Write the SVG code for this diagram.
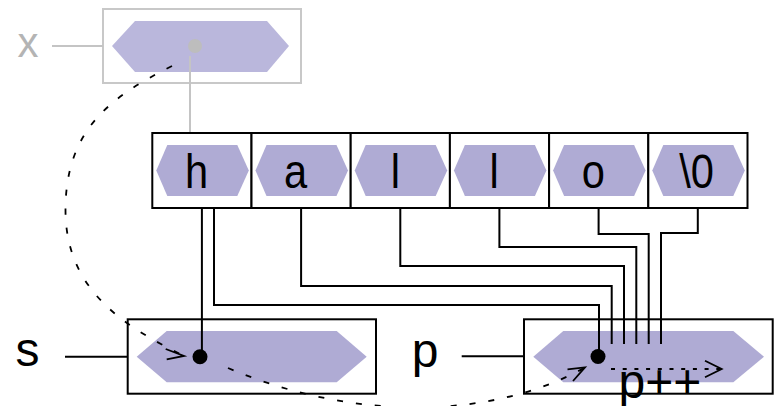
<svg xmlns="http://www.w3.org/2000/svg" width="776" height="406" viewBox="0 0 776 406">
<style>
.box{fill:#fff;stroke:#000;stroke-width:2}
.gbox{fill:#fff;stroke:#c8c8c8;stroke-width:2}
.hex{fill:#afabd4}
.ghex{fill:#bab7dc}
.wire{fill:none;stroke:#000;stroke-width:2}
.gwire{fill:none;stroke:#c4c4c4;stroke-width:2}
.dash{fill:none;stroke:#000;stroke-width:1.8;stroke-dasharray:6 13}
.dash2{fill:none;stroke:#000;stroke-width:1.8;stroke-dasharray:4 7.7}
.head{fill:none;stroke:#000;stroke-width:1.8}
.lbl{font-family:"Liberation Sans",Arial,sans-serif;font-size:48px;fill:#000}
.cell{font-family:"Liberation Sans",Arial,sans-serif;font-size:49px;fill:#000;text-anchor:middle}
</style>
<g id="x">
<rect class="gbox" x="103" y="9" width="198" height="74"/>
<polygon class="ghex" points="112,46 135,21 267,21 289,46 267,72 135,72"/>
<line class="gwire" x1="52" y1="46" x2="103" y2="46"/>
<line class="gwire" x1="190" y1="56" x2="190" y2="133"/>
<circle cx="195" cy="46" r="7" fill="#bdbdbd"/>
<text class="lbl" x="28" y="57" text-anchor="middle" style="font-size:42px;fill:#b4b4b4">x</text>
</g>
<g id="array">
<g id="c0"><rect class="box" x="152.3" y="133" width="99.2" height="75"/><polygon class="hex" points="156.3,170.5 167.3,145 237.3,145 248.8,170.5 237.3,196 167.3,196"/><text class="cell" transform="translate(196.7,187.7) scale(0.85,1)">h</text></g>
<g id="c1"><rect class="box" x="251.5" y="133" width="99.2" height="75"/><polygon class="hex" points="255.5,170.5 266.5,145 336.5,145 348,170.5 336.5,196 266.5,196"/><text class="cell" transform="translate(295.5,187.7) scale(0.85,1)">a</text></g>
<g id="c2"><rect class="box" x="350.7" y="133" width="99.2" height="75"/><polygon class="hex" points="354.7,170.5 365.7,145 435.7,145 447.2,170.5 435.7,196 365.7,196"/><text class="cell" transform="translate(395.3,187.7) scale(0.85,1)">l</text></g>
<g id="c3"><rect class="box" x="449.9" y="133" width="99.2" height="75"/><polygon class="hex" points="453.9,170.5 464.9,145 534.9,145 546.4,170.5 534.9,196 464.9,196"/><text class="cell" transform="translate(494,187.7) scale(0.85,1)">l</text></g>
<g id="c4"><rect class="box" x="549.1" y="133" width="99.2" height="75"/><polygon class="hex" points="553.1,170.5 564.1,145 634.1,145 645.6,170.5 634.1,196 564.1,196"/><text class="cell" transform="translate(593.3,187.7) scale(0.85,1)">o</text></g>
<g id="c5"><rect class="box" x="648.3" y="133" width="99.2" height="75"/><polygon class="hex" points="652.3,170.5 663.3,145 733.3,145 744.8,170.5 733.3,196 663.3,196"/><text class="cell" transform="translate(696.5,187.7) scale(0.85,1)">\0</text></g>
</g>
<g id="s">
<rect class="box" x="127.7" y="319.3" width="248.3" height="74.4"/>
<polygon class="hex" points="136.7,356.7 166.7,331 336.7,331 366.7,356.7 336.7,382.3 166.7,382.3"/>
<line class="wire" x1="65" y1="356.7" x2="127.7" y2="356.7"/>
<text class="lbl" x="27.5" y="366.3" text-anchor="middle">s</text>
</g>
<g id="p">
<rect class="box" x="524" y="319.3" width="248.7" height="74.4"/>
<polygon class="hex" points="533.3,356.7 563.3,331 733.3,331 764,356.7 733.3,382.3 563.3,382.3"/>
<line class="wire" x1="461.7" y1="356.3" x2="524" y2="356.3"/>
<text class="lbl" x="425.2" y="366.7" text-anchor="middle">p</text>
</g>
<g id="connectors">
<polyline class="wire" points="201.9,208 201.9,350"/>
<polyline class="wire" points="214,208 214,305 599,305 599,350"/>
<polyline class="wire" points="301.1,208 301.1,286 611.7,286 611.7,344"/>
<polyline class="wire" points="400.3,208 400.3,266 624,266 624,344"/>
<polyline class="wire" points="499.4,208 499.4,247 636.3,247 636.3,344"/>
<polyline class="wire" points="598.6,208 598.6,234 648.7,234 648.7,344"/>
<polyline class="wire" points="697.8,208 697.8,233 661,233 661,344"/>
<path class="dash" d="M172,66 C110,97 65.5,130 65.5,210 C65.5,290 124,326 182,355"/>
<polyline class="head" points="165.7,349 184,356 166.7,359.3"/>
<path class="dash" d="M228,368 C360,424 496,417 584,368"/>
<polyline class="head" points="567.5,369.3 585,367.3 573,381"/>
<line class="dash2" x1="611" y1="369" x2="720" y2="369"/>
<polyline class="head" points="705,360.7 721.7,369 705,377.3"/>
</g>
<g id="dots">
<circle cx="200" cy="356.7" r="7.5" fill="#000"/>
<circle cx="598" cy="356.5" r="7.5" fill="#000"/>
</g>
<text id="pinc" class="lbl" x="618.5" y="398.3">p++</text>
</svg>
